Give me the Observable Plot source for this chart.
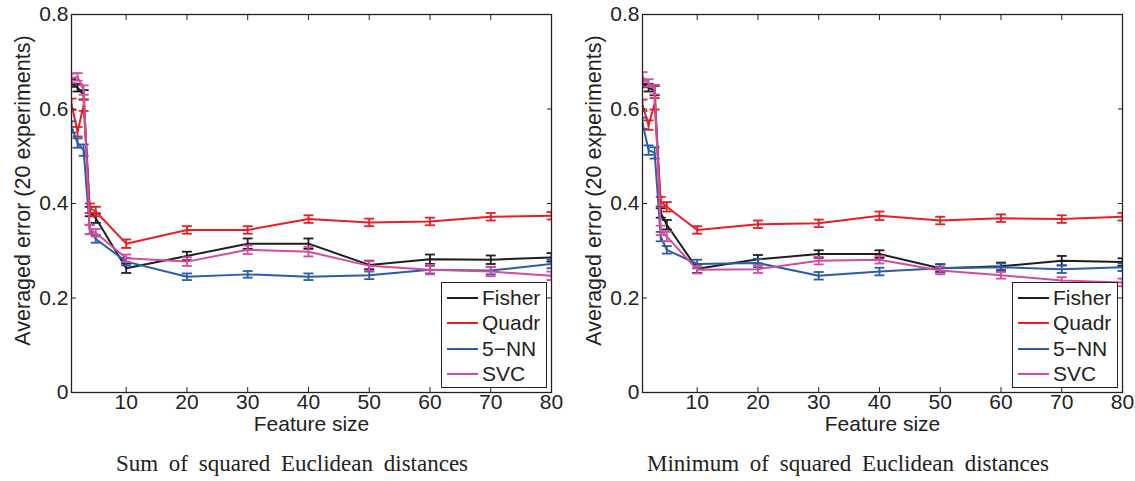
<!DOCTYPE html>
<html><head><meta charset="utf-8">
<script src="https://cdn.jsdelivr.net/npm/d3@7"></script>
<script src="https://cdn.jsdelivr.net/npm/@observablehq/plot@0.6"></script>
<style>
body{margin:0;background:#fff;}
#wrap{position:relative;width:1135px;height:481px;overflow:hidden;font-family:"Liberation Sans",Arial,sans-serif;}
.panel{position:absolute;top:0;}
.legend{position:absolute;background:#fff;border:1.2px solid #222;box-sizing:border-box;width:106px;height:106px;padding:2px 0 0 5px;}
.legend .row{display:flex;align-items:center;height:25.5px;font-size:21px;color:#222;}
.legend .sw{width:31px;height:0;border-top:2px solid;margin-right:4px;}
.caption{position:absolute;top:451px;font-family:"Liberation Serif","Times New Roman",serif;font-size:23px;white-space:nowrap;transform:translateX(-50%);color:#222;word-spacing:5px;}
</style></head><body><div id="wrap"></div><script>
const featureSizes = [1, 2, 3, 4, 5, 10, 20, 30, 40, 50, 60, 70, 80];
const seriesNames = ["Fisher", "Quadr", "5\u2212NN", "SVC"];
const seriesColors = ["#1e1e1e", "#ec1c24", "#2a5caa", "#d24d9f"];
const xTicks = [10, 20, 30, 40, 50, 60, 70, 80];
const yTicks = [0, 0.2, 0.4, 0.6, 0.8];
const xLabel = "Feature size";
const yLabel = "Averaged error (20 experiments)";
const captions = ["Sum of squared Euclidean distances", "Minimum of squared Euclidean distances"];

// Left panel: sum of squared Euclidean distances
const sumFisher = [0.655, 0.645, 0.630, 0.383, 0.369, 0.263, 0.289, 0.315, 0.315, 0.270, 0.282, 0.281, 0.286];
const sumQuadr  = [0.610, 0.552, 0.608, 0.390, 0.383, 0.315, 0.344, 0.344, 0.367, 0.360, 0.362, 0.372, 0.374];
const sumNN     = [0.562, 0.528, 0.513, 0.345, 0.325, 0.277, 0.245, 0.250, 0.245, 0.248, 0.260, 0.258, 0.272];
const sumSVC    = [0.665, 0.668, 0.640, 0.345, 0.338, 0.284, 0.277, 0.302, 0.298, 0.268, 0.260, 0.256, 0.247];
const sumFisherErr = [0.008, 0.008, 0.010, 0.010, 0.010, 0.010, 0.009, 0.011, 0.011, 0.009, 0.010, 0.009, 0.009];
const sumQuadrErr  = [0.012, 0.010, 0.012, 0.010, 0.010, 0.009, 0.008, 0.008, 0.008, 0.008, 0.008, 0.008, 0.008];
const sumNNErr     = [0.012, 0.010, 0.012, 0.010, 0.008, 0.008, 0.007, 0.007, 0.007, 0.008, 0.008, 0.008, 0.009];
const sumSVCErr    = [0.010, 0.008, 0.010, 0.010, 0.008, 0.008, 0.009, 0.009, 0.010, 0.010, 0.010, 0.010, 0.009];

// Right panel: minimum of squared Euclidean distances
const minFisher = [0.654, 0.645, 0.639, 0.380, 0.355, 0.262, 0.282, 0.293, 0.293, 0.263, 0.267, 0.279, 0.276];
const minQuadr  = [0.608, 0.566, 0.611, 0.404, 0.393, 0.344, 0.356, 0.358, 0.374, 0.364, 0.369, 0.367, 0.372];
const minNN     = [0.570, 0.513, 0.507, 0.330, 0.302, 0.272, 0.274, 0.247, 0.256, 0.263, 0.265, 0.261, 0.265];
const minSVC    = [0.668, 0.655, 0.641, 0.343, 0.330, 0.260, 0.261, 0.279, 0.281, 0.258, 0.248, 0.237, 0.233];
const minFisherErr = [0.008, 0.008, 0.010, 0.010, 0.010, 0.009, 0.009, 0.008, 0.008, 0.008, 0.008, 0.010, 0.008];
const minQuadrErr  = [0.012, 0.010, 0.012, 0.010, 0.010, 0.008, 0.008, 0.008, 0.009, 0.008, 0.008, 0.008, 0.008];
const minNNErr     = [0.012, 0.010, 0.012, 0.010, 0.008, 0.009, 0.009, 0.008, 0.008, 0.009, 0.008, 0.008, 0.008];
const minSVCErr    = [0.010, 0.008, 0.010, 0.010, 0.010, 0.008, 0.008, 0.008, 0.008, 0.008, 0.007, 0.007, 0.008];

const capSymbol = {draw(ctx) { ctx.moveTo(-5, 0); ctx.lineTo(5, 0); }};

function makePanel(values, errors, width, marginLeft, marginRight) {
  const rows = [];
  seriesNames.forEach((s, i) => featureSizes.forEach((x, j) =>
    rows.push({series: s, x, y: values[i][j], lo: values[i][j] - errors[i][j], hi: values[i][j] + errors[i][j]})));
  const seriesMarks = seriesNames.flatMap((s) => {
    const f = (d) => d.series === s;
    return [
      Plot.line(rows, {filter: f, x: "x", y: "y", stroke: "series", strokeWidth: 2, clip: true}),
      Plot.ruleX(rows, {filter: f, x: "x", y1: "lo", y2: "hi", stroke: "series", strokeWidth: 1.8, clip: true}),
      Plot.dot(rows, {filter: f, x: "x", y: "lo", symbol: capSymbol, stroke: "series", fill: "none", strokeWidth: 1.8, clip: true}),
      Plot.dot(rows, {filter: f, x: "x", y: "hi", symbol: capSymbol, stroke: "series", fill: "none", strokeWidth: 1.8, clip: true})
    ];
  });
  return Plot.plot({
    width, height: 440, marginLeft, marginRight, marginTop: 14, marginBottom: 48,
    x: {domain: [1, 80], label: null},
    y: {domain: [0, 0.8], label: null},
    color: {domain: seriesNames, range: seriesColors},
    style: {fontFamily: "Liberation Sans, Arial, sans-serif", fontSize: "21px", color: "#222", background: "white", overflow: "visible"},
    marks: [
      ...seriesMarks,
      Plot.axisX(xTicks, {anchor: "bottom", tickSize: -5, tickPadding: 7, fontSize: 21, stroke: "#222", label: null, lineAnchor: "top"}),
      Plot.axisX(xTicks, {anchor: "top", tickSize: -5, text: null, label: null, stroke: "#222"}),
      Plot.axisY(yTicks, {anchor: "left", tickSize: -5, tickPadding: 8, fontSize: 21, stroke: "#222", label: null, tickFormat: (d) => `${d}`}),
      Plot.axisY(yTicks, {anchor: "right", tickSize: -5, text: null, label: null, stroke: "#222"}),
      Plot.frame({stroke: "#222", strokeWidth: 1.3}),
      Plot.text([yLabel], {frameAnchor: "left", textAnchor: "middle", lineAnchor: "middle", dx: -48, dy: -13, rotate: -90, fontSize: 21.5, fill: "#222"}),
      Plot.text([xLabel], {frameAnchor: "bottom", dy: 38, fontSize: 21, fill: "#222"})
    ]
  });
}

function makeLegend(left, top) {
  const div = document.createElement("div");
  div.className = "legend";
  div.style.left = left + "px";
  div.style.top = top + "px";
  seriesNames.forEach((s, i) => {
    const row = document.createElement("div");
    row.className = "row";
    const sw = document.createElement("span");
    sw.className = "sw";
    sw.style.borderTopColor = seriesColors[i];
    const t = document.createElement("span");
    t.textContent = s;
    row.append(sw, t);
    div.append(row);
  });
  return div;
}

const wrap = document.getElementById("wrap");
const panels = [
  {values: [sumFisher, sumQuadr, sumNN, sumSVC], errors: [sumFisherErr, sumQuadrErr, sumNNErr, sumSVCErr], left: 0, width: 567, ml: 71, mr: 16, legend: [441, 282], cap: 292},
  {values: [minFisher, minQuadr, minNN, minSVC], errors: [minFisherErr, minQuadrErr, minNNErr, minSVCErr], left: 567, width: 568, ml: 75, mr: 13, legend: [1012, 282], cap: 848}
];
panels.forEach((p, k) => {
  const d = document.createElement("div");
  d.className = "panel";
  d.style.left = p.left + "px";
  d.append(makePanel(p.values, p.errors, p.width, p.ml, p.mr));
  wrap.append(d);
  wrap.append(makeLegend(p.legend[0], p.legend[1]));
  const c = document.createElement("div");
  c.className = "caption";
  c.style.left = p.cap + "px";
  c.textContent = captions[k];
  wrap.append(c);
});
</script></body></html>
